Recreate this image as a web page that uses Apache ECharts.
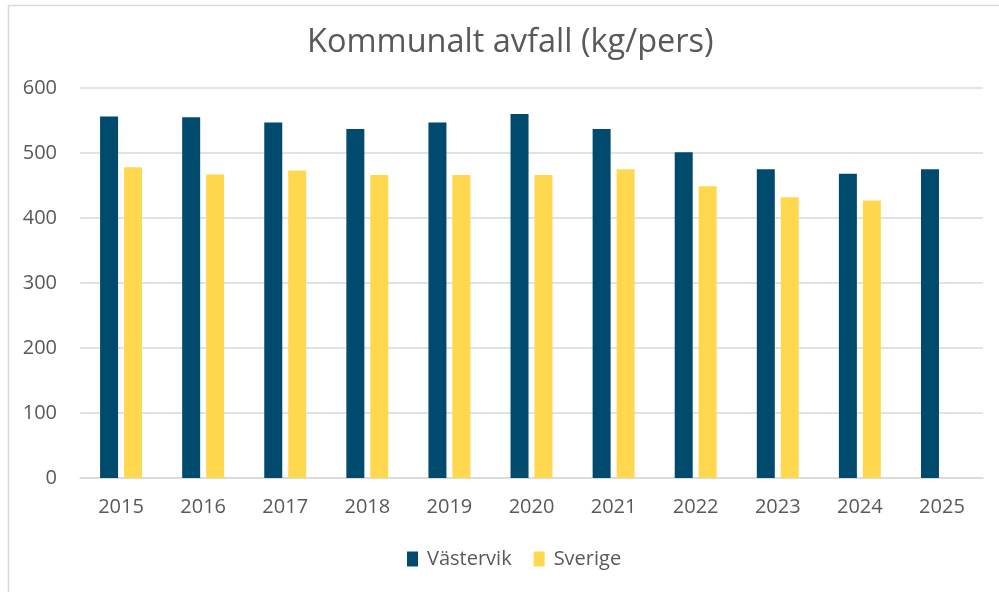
<!DOCTYPE html>
<html>
<head>
<meta charset="utf-8">
<script src="https://cdn.jsdelivr.net/npm/echarts@6/dist/echarts.min.js"></script>
<style>
    html, body { margin: 0; padding: 0; background: #fff; }
    #chart { width: 999px; height: 592px; }
</style>
</head>
<body>
<div id="chart"></div>
<script>
let years = ['2015', '2016', '2017', '2018', '2019', '2020', '2021', '2022', '2023', '2024', '2025'];
let vastervik = [556, 555, 547, 537, 547, 560, 537, 501, 475, 468, 475];
let sverige = [478, 467, 473, 466, 466, 466, 475, 449, 432, 427, null];

let textColor = '#595959';
let font = '"Open Sans", sans-serif';

let option = {
    animation: false,
    backgroundColor: '#fff',
    textStyle: { fontFamily: font },
    graphic: [{
        type: 'rect',
        shape: { x: 8.5, y: 5.5, width: 1000, height: 600 },
        style: { fill: 'none', stroke: '#d9d9d9', lineWidth: 1.5 },
        silent: true
    }],
    title: {
        text: 'Kommunalt avfall (kg/pers)',
        left: 307,
        top: 26,
        padding: 0,
        textStyle: {
            color: textColor,
            fontFamily: font,
            fontWeight: 'normal',
            fontSize: 32.5
        }
    },
    legend: {
        bottom: 18,
        left: 402,
        itemWidth: 11,
        itemHeight: 15,
        itemGap: 22,
        icon: 'rect',
        textStyle: { color: textColor, fontSize: 20, fontFamily: font, padding: [0, 0, 0, 4] },
        data: ['Västervik', 'Sverige']
    },
    grid: {
        left: 80,
        right: 16,
        top: 88,
        bottom: 114
    },
    xAxis: {
        type: 'category',
        data: years,
        axisTick: { show: false },
        axisLine: { lineStyle: { color: '#d9d9d9', width: 1.5 } },
        axisLabel: { color: textColor, fontSize: 20, margin: 19 }
    },
    yAxis: {
        type: 'value',
        min: 0,
        max: 600,
        interval: 100,
        axisLine: { show: false },
        axisTick: { show: false },
        axisLabel: { color: textColor, fontSize: 20, margin: 23 },
        splitLine: { lineStyle: { color: '#d9d9d9', width: 1.5 } }
    },
    series: [{
        name: 'Västervik',
        type: 'bar',
        data: vastervik,
        barWidth: 18,
        barGap: '33%',
        itemStyle: { color: '#004b6d' }
    }, {
        name: 'Sverige',
        type: 'bar',
        data: sverige,
        barWidth: 18,
        itemStyle: { color: '#ffd84f' }
    }]
};

echarts.init(document.getElementById('chart')).setOption(option);
</script>
</body>
</html>
